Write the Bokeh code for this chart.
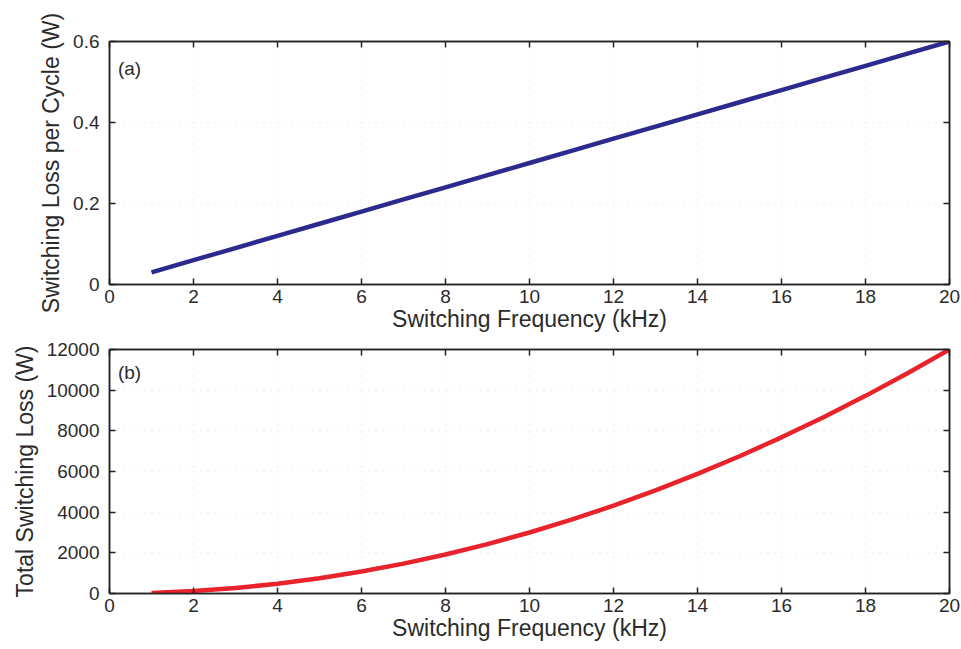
from bokeh.plotting import figure
from bokeh.layouts import column
from bokeh.models import LinearAxis, Label, FixedTicker, Range1d
from bokeh.embed import file_html
from bokeh.resources import INLINE

freq_khz = [1, 2, 3, 4, 5, 6, 7, 8, 9, 10, 11, 12, 13, 14, 15, 16, 17, 18, 19, 20]
loss_per_cycle = [0.03, 0.06, 0.09, 0.12, 0.15, 0.18, 0.21, 0.24, 0.27, 0.30,
                  0.33, 0.36, 0.39, 0.42, 0.45, 0.48, 0.51, 0.54, 0.57, 0.60]
total_loss = [30, 120, 270, 480, 750, 1080, 1470, 1920, 2430, 3000,
              3630, 4320, 5070, 5880, 6750, 7680, 8670, 9720, 10830, 12000]

x_ticks = [0, 2, 4, 6, 8, 10, 12, 14, 16, 18, 20]
y1_ticks = [0, 0.2, 0.4, 0.6]
y2_ticks = [0, 2000, 4000, 6000, 8000, 10000, 12000]

FONT = "Liberation Sans"
TXT = "#2b2b2b"
EDGE = "#222222"


def base_axis(ax):
    ax.major_tick_in = 6
    ax.major_tick_out = 0
    ax.minor_tick_in = 0
    ax.minor_tick_out = 0
    ax.axis_line_color = EDGE
    ax.axis_line_width = 1.5
    ax.major_tick_line_color = EDGE
    ax.major_tick_line_width = 1.5


def style(p, xt, yt, xlabel, ylabel):
    p.outline_line_color = EDGE
    p.outline_line_width = 1.5
    for ax in p.xaxis + p.yaxis:
        base_axis(ax)
        ax.major_label_text_font = FONT
        ax.major_label_text_font_size = "19px"
        ax.major_label_text_color = TXT
        ax.axis_label_text_font = FONT
        ax.axis_label_text_font_size = "23px"
        ax.axis_label_text_font_style = "normal"
        ax.axis_label_text_color = TXT
    p.xaxis.ticker = FixedTicker(ticks=xt)
    p.yaxis.ticker = FixedTicker(ticks=yt)
    p.xaxis.major_label_standoff = 5
    p.yaxis.major_label_standoff = 10
    p.xaxis.axis_label = xlabel
    p.yaxis.axis_label = ylabel
    p.xaxis.axis_label_standoff = 0
    p.yaxis.axis_label_standoff = 6
    for loc, ticks in (("right", yt), ("above", xt)):
        ax = LinearAxis()
        base_axis(ax)
        ax.ticker = FixedTicker(ticks=ticks)
        ax.major_label_overrides = {t: "" for t in ticks}
        ax.major_label_standoff = 0
        p.add_layout(ax, loc)
    p.xgrid.ticker = FixedTicker(ticks=xt)
    p.ygrid.ticker = FixedTicker(ticks=yt)
    for g in (p.xgrid[0], p.ygrid[0]):
        g.grid_line_color = "#cfcfcf"
        g.grid_line_dash = "1 6"
        g.grid_line_width = 1
        g.grid_line_alpha = 0.6


p1 = figure(width=961, height=340, output_backend="svg", toolbar_location=None,
            x_range=Range1d(0, 20), y_range=Range1d(0, 0.6),
            min_border_left=109, min_border_right=12, min_border_top=41, min_border_bottom=56)
p1.line(freq_khz, loss_per_cycle, line_color="#2d2a8e", line_width=4.5)
style(p1, x_ticks, y1_ticks, "Switching Frequency (kHz)", "Switching Loss per Cycle (W)")
p1.add_layout(Label(x=0.2, y=0.533, text="(a)", text_font=FONT, text_font_size="19px",
                    text_color=TXT, text_baseline="middle"))

p2 = figure(width=961, height=309, output_backend="svg", toolbar_location=None,
            x_range=Range1d(0, 20), y_range=Range1d(0, 12000),
            min_border_left=109, min_border_right=12, min_border_top=9, min_border_bottom=56)
p2.line(freq_khz, total_loss, line_color="#e8232b", line_width=4.5)
style(p2, x_ticks, y2_ticks, "Switching Frequency (kHz)", "Total Switching Loss (W)")
p2.add_layout(Label(x=0.2, y=10870, text="(b)", text_font=FONT, text_font_size="19px",
                    text_color=TXT, text_baseline="middle"))

for p in (p1, p2):
    p.background_fill_color = "white"
    p.border_fill_color = "white"

layout = column(p1, p2, spacing=0)
open("out.html", "w").write(file_html(layout, INLINE))
